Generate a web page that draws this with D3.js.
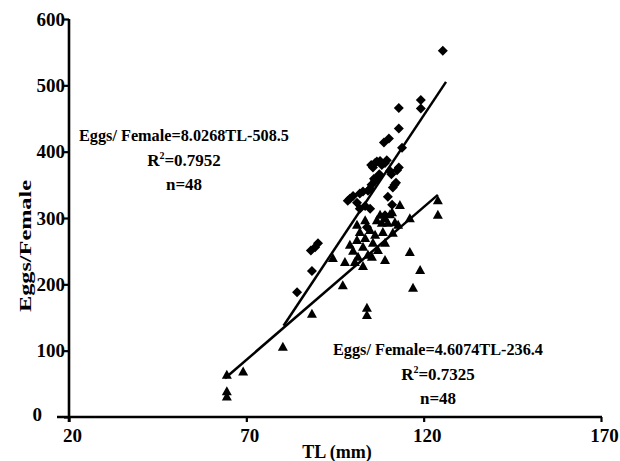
<!DOCTYPE html>
<html><head><meta charset="utf-8">
<script src="https://cdn.jsdelivr.net/npm/d3@7"></script>
<style>body{margin:0;background:#fff}svg{display:block}text{font-family:"Liberation Serif","Times New Roman",serif;font-weight:bold;fill:#000}</style>
</head><body><svg id="c" width="620" height="461"></svg>
<script>
// Diamonds series (TL mm, eggs/female)
const diamondTL = [125.4,119.2,119.2,113.0,113.0,108.8,110.2,113.9,106.3,107.7,109.1,113.0,105.7,107.1,110.5,112.2,111.3,106.3,104.9,102.0,99.2,101.2,109.9,104.9,102.0,104.0,89.4,88.2,90.2,88.5,84.3,104.3,106.8,108.2,109.6,105.2,107.5,110.9,111.8,105.3,102.9,100.1,109.1,111.1,103.5,98.6,106.0,112.5];
const diamondEggs = [552,478,465,466,435,414,420,406,383,386,383,376,376,361,371,353,346,356,344,337,329,323,332,314,314,286,256,251,262,220,188,341,385,380,387,380,366,366,350,350,340,333,304,320,318,326,359,372];
// Triangles series
const triangleTL = [64.5,69.1,64.5,64.5,80.3,88.5,94.4,104.0,104.0,97.2,117.0,119.0,116.1,109.1,102.9,101.5,100.1,102.9,105.7,109.1,101.2,103.5,106.3,108.5,111.3,101.2,103.5,116.1,113.3,124.0,124.0,107.7,109.1,110.5,111.9,108.2,109.9,104.9,102.0,99.2,104.3,107.1,111.1,106.8,97.8,100.6,112.8,105.4];
const triangleEggs = [63,68,38,30,105,155,239,164,153,198,194,221,248,236,227,241,250,256,262,262,266,269,274,278,277,289,296,299,319,326,304,304,299,305,293,292,292,281,278,259,244,251,308,296,233,233,289,241];
// Regression fits: [slope, intercept], x extent
const fitDiamond = [8.0268, -508.5];
const fitDiamondRange = [80.5, 126.3];
const fitTriangle = [4.6074, -236.4];
const fitTriangleRange = [64.0, 124.0];
const xTicks = [20, 70, 120, 170];
const yTicks = [0, 100, 200, 300, 400, 500, 600];
const eq1 = ["Eggs/ Female=8.0268TL-508.5", "R²=0.7952", "n=48"];
const eq2 = ["Eggs/ Female=4.6074TL-236.4", "R²=0.7325", "n=48"];
const xTitle = "TL (mm)";
const yTitle = "Eggs/Female";

const svg = d3.select("#c");
const x = d3.scaleLinear().domain([20,170]).range([69,601]);
const y = d3.scaleLinear().domain([0,600]).range([417,19]);

// axes
const ax = svg.append("g").attr("transform","translate(0,417)")
  .call(d3.axisBottom(x).tickValues(xTicks).tickSize(5).tickSizeOuter(0).tickFormat(d3.format("d")));
ax.select(".domain").remove();
ax.selectAll("line").attr("stroke","#000").attr("stroke-width",2.2);
ax.selectAll("text").attr("font-size",19).attr("dy","0.9em").attr("dx",3);

const ay = svg.append("g").attr("transform","translate(69,0)")
  .call(d3.axisLeft(y).tickValues(yTicks).tickSize(5).tickSizeOuter(0).tickFormat(d3.format("d")));
ay.select(".domain").remove();
ay.selectAll("line").attr("stroke","#000").attr("stroke-width",2.2);
ay.selectAll("text").attr("font-size",19).attr("x",-4).attr("dy","0.32em");
ay.selectAll(".tick").filter(d=>d===0).select("text").attr("x",-27).attr("dy","0.2em");

svg.append("line").attr("x1",57).attr("x2",x(170)+1).attr("y1",y(0)).attr("y2",y(0)).attr("stroke","#000").attr("stroke-width",2.6);
svg.append("line").attr("x1",x(20)).attr("x2",x(20)).attr("y1",y(600)).attr("y2",y(0)+5).attr("stroke","#000").attr("stroke-width",2.6);

svg.append("text").attr("x",x(95)+2).attr("y",458).attr("text-anchor","middle").attr("font-size",18).text(xTitle);
svg.append("text").attr("transform","translate(31,246) rotate(-90)").attr("text-anchor","middle").attr("font-size",17)
  .attr("textLength",132).attr("lengthAdjust","spacingAndGlyphs").text(yTitle);

// regression lines
function fitLine(f, r){ return r.map(v=>[x(v), y(f[0]*v+f[1])]); }
const lg = d3.line();
svg.append("path").attr("d", lg(fitLine(fitDiamond, fitDiamondRange))).attr("stroke","#000").attr("stroke-width",2.5).attr("fill","none");
svg.append("path").attr("d", lg(fitLine(fitTriangle, fitTriangleRange))).attr("stroke","#000").attr("stroke-width",2.5).attr("fill","none");

// markers
svg.append("g").selectAll("path").data(diamondTL.map((d,i)=>[d,diamondEggs[i]])).join("path")
  .attr("d","M0,-5L5,0L0,5L-5,0Z").attr("transform",d=>`translate(${x(d[0])},${y(d[1])})`).attr("fill","#000");
svg.append("g").selectAll("path").data(triangleTL.map((d,i)=>[d,triangleEggs[i]])).join("path")
  .attr("d","M0,-5.5L5,3.5L-5,3.5Z").attr("transform",d=>`translate(${x(d[0])},${y(d[1])})`).attr("fill","#000");

// equations
function eq(lines, cx, y0){
  const g = svg.append("g");
  lines.forEach((t,i)=>{
    const tx = g.append("text").attr("x",cx).attr("y",y0+i*24.5).attr("text-anchor","middle").attr("font-size",17);
    if(t.startsWith("R²")){
      tx.append("tspan").text("R");
      tx.append("tspan").attr("font-size",10).attr("dy",-7).text("2");
      tx.append("tspan").attr("dy",7).text(t.slice(2));
    } else tx.text(t);
    if(i===0) tx.attr("textLength",210).attr("lengthAdjust","spacingAndGlyphs");
  });
}
eq(eq1, 184, 141);
eq(eq2, 438, 355);
</script></body></html>
